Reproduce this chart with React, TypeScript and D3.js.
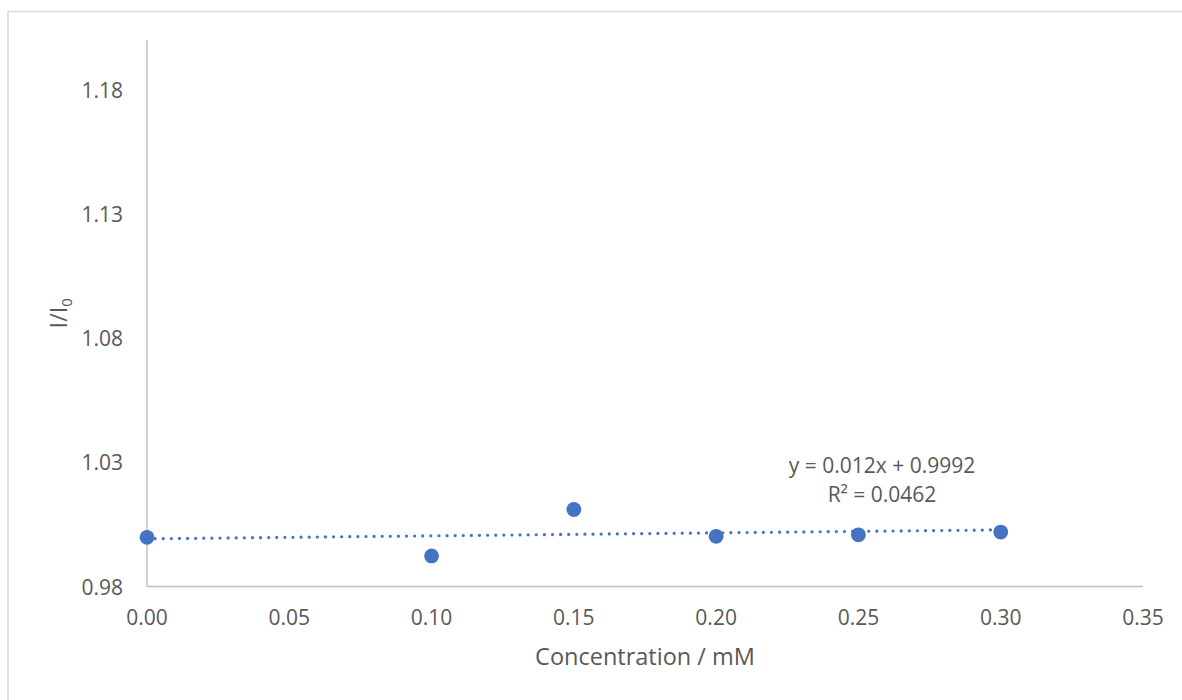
import { useRef, useEffect } from "react";
import * as d3 from "d3";

// data
const concentration = [0.0, 0.1, 0.15, 0.2, 0.25, 0.3];
const ratio = [0.9998, 0.9923, 1.011, 1.0002, 1.0008, 1.0019];
const xTicks = [0, 0.05, 0.1, 0.15, 0.2, 0.25, 0.3, 0.35];
const yTicks = [0.98, 1.03, 1.08, 1.13, 1.18];
const trendSlope = 0.012;
const trendIntercept = 0.9992;
const equationLabel = "y = 0.012x + 0.9992";
const r2Label = "R² = 0.0462";

const App = () => {
  const svgRef = useRef<SVGSVGElement>(null);

  useEffect(() => {
    const svg = d3.select(svgRef.current);
    svg.selectAll("*").remove();

    const width = 1182;
    const height = 700;
    const left = 147;
    const right = 1143;
    const top = 40;
    const bottom = 586.5;
    const font = "'Open Sans', 'Liberation Sans', sans-serif";
    const textColor = "#595959";
    const axisColor = "#bfbfbf";
    const blue = "#4472C4";

    // Escalas
    const x = d3.scaleLinear().domain([0, 0.35]).range([left, right]);
    const y = d3.scaleLinear().domain([0.98, 1.2]).range([bottom, top]);

    svg.attr("width", width).attr("height", height);

    // marco del grafico
    svg
      .append("rect")
      .attr("x", 8)
      .attr("y", 11.5)
      .attr("width", width)
      .attr("height", height)
      .attr("fill", "white")
      .attr("stroke", "#d9d9d9")
      .attr("stroke-width", 1.5);

    // ejes
    svg
      .append("line")
      .attr("x1", x(0))
      .attr("x2", x(0))
      .attr("y1", top)
      .attr("y2", bottom)
      .attr("stroke", axisColor)
      .attr("stroke-width", 1.5);
    svg
      .append("line")
      .attr("x1", x(0))
      .attr("x2", x(0.35))
      .attr("y1", bottom)
      .attr("y2", bottom)
      .attr("stroke", axisColor)
      .attr("stroke-width", 1.5);

    // etiquetas de los ejes
    svg
      .selectAll("text.xtick")
      .data(xTicks)
      .enter()
      .append("text")
      .attr("class", "xtick")
      .attr("x", (d) => x(d))
      .attr("y", 625)
      .attr("text-anchor", "middle")
      .attr("font-family", font)
      .attr("font-size", 21)
      .attr("fill", textColor)
      .text((d) => d.toFixed(2));

    svg
      .selectAll("text.ytick")
      .data(yTicks)
      .enter()
      .append("text")
      .attr("class", "ytick")
      .attr("x", 123)
      .attr("y", (d) => y(d) + 8)
      .attr("text-anchor", "end")
      .attr("font-family", font)
      .attr("font-size", 21)
      .attr("fill", textColor)
      .text((d) => d.toFixed(2));

    // titulos
    svg
      .append("text")
      .attr("x", (left + right) / 2)
      .attr("y", 665)
      .attr("text-anchor", "middle")
      .attr("font-family", font)
      .attr("font-size", 23.5)
      .attr("fill", textColor)
      .text("Concentration / mM");

    const yTitle = svg
      .append("text")
      .attr("transform", `translate(67,${(top + bottom) / 2}) rotate(-90)`)
      .attr("text-anchor", "middle")
      .attr("font-family", font)
      .attr("font-size", 23.5)
      .attr("fill", textColor);
    yTitle.append("tspan").text("I/I");
    yTitle
      .append("tspan")
      .attr("font-size", 15)
      .attr("dy", 5)
      .text("0");

    // linea de tendencia
    svg
      .append("line")
      .attr("x1", x(0))
      .attr("x2", x(0.3))
      .attr("y1", y(trendIntercept))
      .attr("y2", y(trendSlope * 0.3 + trendIntercept))
      .attr("stroke", blue)
      .attr("stroke-width", 3.2)
      .attr("stroke-linecap", "round")
      .attr("stroke-dasharray", "0.01 8.1");

    // puntos
    svg
      .selectAll("circle")
      .data(concentration)
      .enter()
      .append("circle")
      .attr("cx", (d) => x(d))
      .attr("cy", (d, i) => y(ratio[i]))
      .attr("r", 7.4)
      .attr("fill", blue);

    // ecuacion
    const eq = svg
      .append("text")
      .attr("text-anchor", "middle")
      .attr("font-family", font)
      .attr("font-size", 21)
      .attr("fill", textColor);
    eq.append("tspan").attr("x", 882).attr("y", 473).text(equationLabel);
    eq.append("tspan").attr("x", 882).attr("y", 502).text(r2Label);
  }, []);

  return (
    <svg
      ref={svgRef}
      style={{ position: "absolute", left: 0, top: 0, display: "block" }}
    ></svg>
  );
};

export default App;
